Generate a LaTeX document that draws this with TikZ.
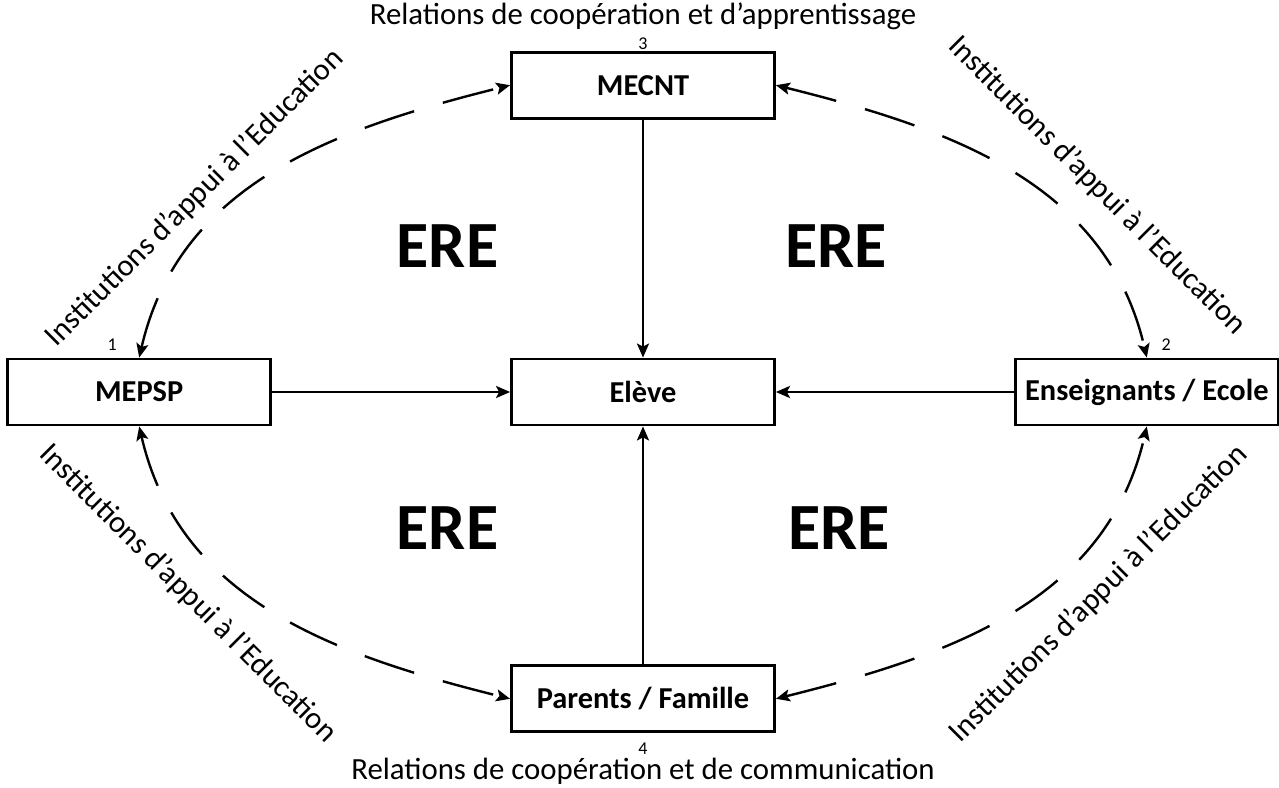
\documentclass[tikz,border=0pt]{standalone}
\usepackage{fontspec}
\setmainfont{Carlito}
\usepackage{tikz}
\usetikzlibrary{arrows.meta,positioning}
\tikzset{
    %Define standard arrow tip
    >={Stealth[length=7pt,width=6pt,inset=1.5pt]},
    %Define style for boxes
    acteur/.style={
           rectangle,
           draw=black, line width=1.4pt,
           minimum width=131.5pt,
           minimum height=33pt,
           font=\fontsize{15.2}{18}\selectfont\bfseries,
           text centered},
    ere/.style={
           font=\fontsize{33}{40}\selectfont\bfseries},
    rel/.style={
           inner sep=0pt,
           font=\fontsize{15.4}{18}\selectfont},
    num/.style={
           inner sep=0pt,
           font=\fontsize{9}{10}\selectfont},
    % Define arrow styles
    pil/.style={
           ->,
           line width=1.2pt},
    appui/.style={
           <->,
           line width=1.2pt,
           dash pattern=on 26pt off 15pt}
}

\begin{document}
\begin{tikzpicture}[node distance=119pt]
\useasboundingbox (-321.5pt,-197.5pt) rectangle (318pt,196pt);

 %nodes
\node[acteur](0){Elève};
\node[acteur, above=of 0, label={[num, yshift=0.5pt]above:3}](3){MECNT};
\node[acteur, left=of 0, label={[num, xshift=-13.5pt, yshift=3.5pt]above:1}](1){MEPSP};
\node[acteur, right=of 0, label={[num, xshift=9.75pt, yshift=3.5pt]above:2}](2){Enseignants / Ecole};
\node[acteur, below=of 0, label={[num, yshift=-4.5pt]below:4}](4){Parents / Famille};

 %relations
\node[rel, above=10.5pt of 3](rel3){Relations de coopération et d’apprentissage};
\node[rel, below=12.5pt of 4](rel4){Relations de coopération et de communication};

\node[ere](ere13) at (-97.75pt,73pt){ERE};
\node[ere](ere32) at (96.5pt,73pt){ERE};
\node[ere](ere14) at (-97.75pt,-68pt){ERE};
\node[ere](ere42) at (98pt,-68pt){ERE};

\node[rel, rotate=45](inst13) at (-224pt,97pt){Institutions d’appui à l’Education};
\node[rel, rotate=-45](inst32) at (227pt,103pt){Institutions d’appui à l’Education};
\node[rel, rotate=-45](inst14) at (-227.5pt,-101pt){Institutions d’appui à l’Education};
\node[rel, rotate=45](inst42) at (228pt,-101pt){Institutions d’appui à l’Education};

 %arrows
\path[pil]
    (3) edge (0)
    (1) edge (0)
    (2) edge (0)
    (4) edge (0);
\draw[appui] (1.north) to[out=77, in=194] (3.west);
\draw[appui] (3.east) to[out=-14, in=103] (2.north);
\draw[appui] (1.south) to[out=-77, in=166] (4.west);
\draw[appui] (4.east) to[out=14, in=-103] (2.south);
\end{tikzpicture}
\end{document}
